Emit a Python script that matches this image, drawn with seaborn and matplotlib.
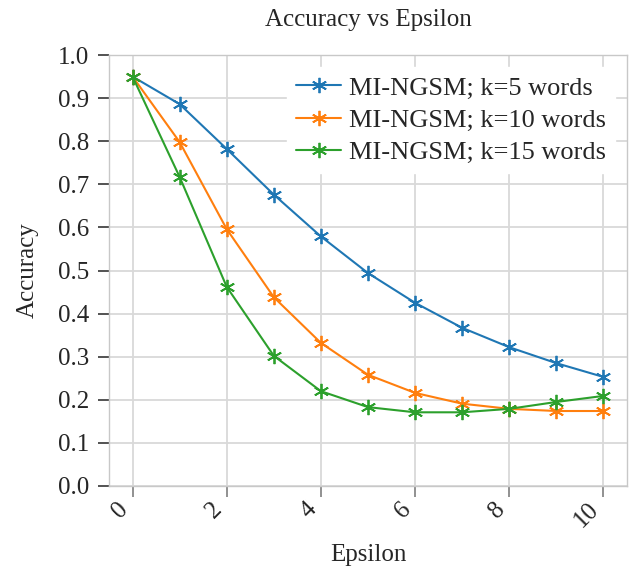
import numpy as np
import pandas as pd
import matplotlib
matplotlib.use("Agg")
import matplotlib.pyplot as plt
import seaborn as sns

epsilon = [0, 1, 2, 3, 4, 5, 6, 7, 8, 9, 10]
acc_k5 = [0.95, 0.886, 0.782, 0.676, 0.579, 0.494, 0.425, 0.367, 0.322, 0.285, 0.253]
acc_k10 = [0.95, 0.798, 0.596, 0.438, 0.332, 0.258, 0.216, 0.191, 0.179, 0.174, 0.174]
acc_k15 = [0.95, 0.717, 0.462, 0.302, 0.220, 0.183, 0.171, 0.171, 0.179, 0.195, 0.209]
series_names = ["MI-NGSM; k=5 words", "MI-NGSM; k=10 words", "MI-NGSM; k=15 words"]
colors = ["#1f77b4", "#ff7f0e", "#2ca02c"]
x_ticks = [0, 2, 4, 6, 8, 10]
y_ticks = [0.0, 0.1, 0.2, 0.3, 0.4, 0.5, 0.6, 0.7, 0.8, 0.9, 1.0]

sns.set_style("whitegrid")
plt.rcParams["font.family"] = ["Liberation Serif", "DejaVu Serif"]

series = [acc_k5, acc_k10, acc_k15]

fig = plt.figure(figsize=(6.39, 5.70), dpi=100)
ax = fig.add_axes([109 / 639, 1 - 486 / 570, (627 - 109) / 639, (486 - 55) / 570])

for name, vals, c in zip(series_names, series, colors):
    df = pd.DataFrame({"Epsilon": epsilon, "Accuracy": vals})
    sns.lineplot(data=df, x="Epsilon", y="Accuracy", color=c, label=name,
                 marker=(6, 2, 0), markersize=11, markeredgewidth=1.3,
                 markeredgecolor=c, markerfacecolor=c, linewidth=1.5, ax=ax)

ax.set_xlim(-0.5, 10.5)
ax.set_ylim(0, 1.0)
ax.set_xticks(x_ticks)
ax.set_yticks(y_ticks)
ax.set_yticklabels([f"{v:.1f}" for v in y_ticks])
ax.grid(True, color="#d9d9d9", linewidth=1.3)
for s in ax.spines.values():
    s.set_color("#c8c8c8")
    s.set_linewidth(1.0)
ax.tick_params(axis="y", which="major", direction="out", length=8, width=1.3,
               color="#444444", labelsize=18, pad=6, left=True)
ax.tick_params(axis="x", which="major", direction="out", length=8, width=1.3,
               color="#888888", labelsize=18, pad=1, bottom=True)
plt.setp(ax.get_xticklabels(), rotation=45, ha="right")

ax.set_title("Accuracy vs Epsilon", fontsize=18, pad=21)
ax.set_xlabel("Epsilon", fontsize=18, labelpad=9)
ax.set_ylabel("Accuracy", fontsize=18, labelpad=14)

leg = ax.legend(loc="upper right", fontsize=19, frameon=True, facecolor="white",
                edgecolor="white", framealpha=1.0, borderaxespad=0.45,
                handlelength=1.7, labelspacing=0.33, handletextpad=0.3,
                borderpad=0.35)

fig.savefig("out.png", dpi=100)
